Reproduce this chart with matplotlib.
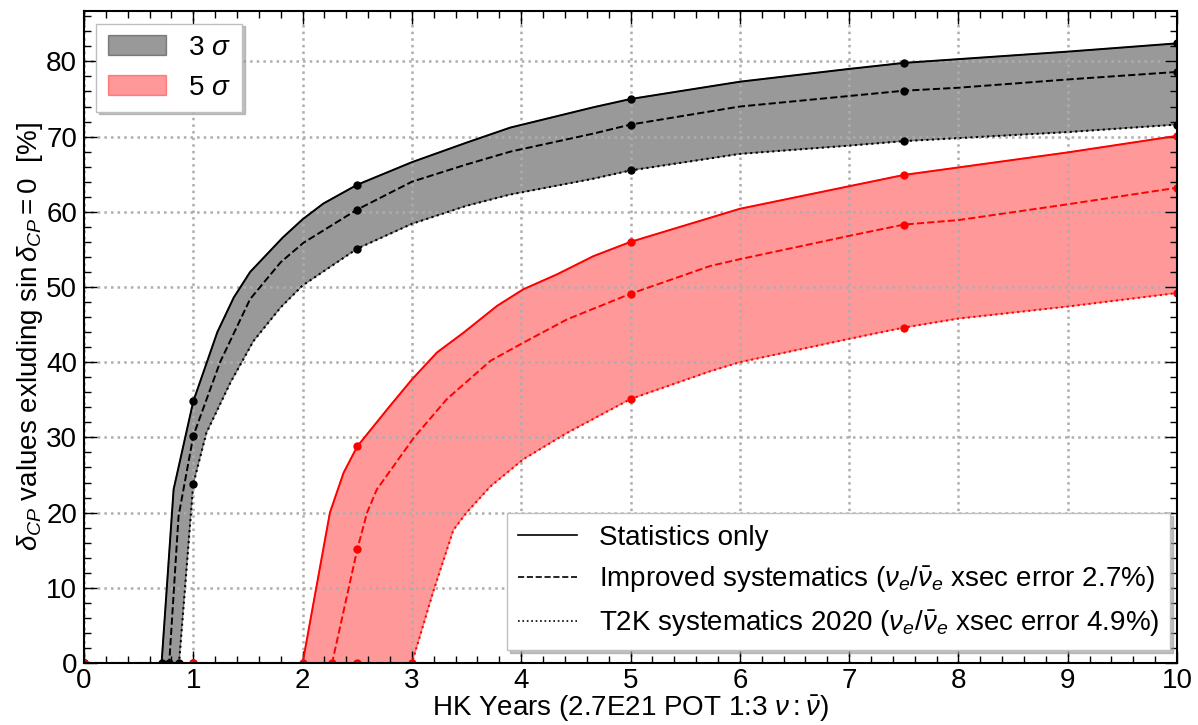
import numpy as np
import matplotlib
matplotlib.use("Agg")
import matplotlib.pyplot as plt
from matplotlib.lines import Line2D
from matplotlib.patches import Patch
from matplotlib.ticker import MultipleLocator

plt.rcParams["font.family"] = ["Liberation Sans", "DejaVu Sans"]
plt.rcParams["mathtext.fontset"] = "custom"
plt.rcParams["mathtext.rm"] = "Liberation Sans"
plt.rcParams["mathtext.it"] = "Liberation Sans:italic"
plt.rcParams["mathtext.bf"] = "Liberation Sans:bold"

FS = 20

# HK years at which each sensitivity curve was evaluated, and the
# fraction of delta_CP values excluding sin(delta_CP)=0 [%]
X_3S_STAT = [0, 0.71, 0.82, 1.0, 1.22, 1.37, 1.52, 1.82, 2.0, 2.19, 2.5, 3.0,
             3.5, 3.9, 4.66, 5.0, 6.0, 7.0, 7.5, 8.0, 9.0, 10.0]
Y_3S_STAT = [0, 0, 23.1, 34.8, 44.0, 48.6, 52.0, 56.6, 59.0, 61.1, 63.6, 66.6,
             69.2, 71.2, 73.9, 75.0, 77.3, 79.0, 79.8, 80.3, 81.3, 82.4]

X_3S_IMPR = [0, 0.78, 0.865, 1.0, 1.245, 1.52, 1.8, 2.01, 2.5, 3.0, 3.5, 3.9,
             4.66, 5.0, 6.0, 7.0, 7.5, 8.0, 9.0, 10.0]
Y_3S_IMPR = [0, 0, 19.5, 30.2, 40.0, 48.4, 53.3, 55.9, 60.3, 64.0, 66.3, 68.0,
             70.4, 71.6, 74.0, 75.4, 76.1, 76.5, 77.6, 78.6]

X_3S_T2K = [0, 0.87, 1.0, 1.12, 1.34, 1.55, 1.8, 2.0, 2.5, 3.0, 3.5, 3.9,
            4.66, 5.0, 6.0, 7.0, 7.5, 8.0, 9.0, 10.0]
Y_3S_T2K = [0, 0, 23.8, 30.6, 37.3, 42.8, 47.3, 50.2, 55.1, 58.4, 60.8, 62.3,
            64.4, 65.5, 67.7, 68.8, 69.4, 69.8, 70.6, 71.6]

X_5S_STAT = [0, 1.0, 2.0, 2.25, 2.375, 2.5, 2.8, 3.0, 3.23, 3.47, 3.78, 4.02,
             4.33, 4.66, 5.0, 6.0, 7.0, 7.5, 8.0, 9.0, 10.0]
Y_5S_STAT = [0, 0, 0, 20.0, 25.3, 28.8, 34.2, 37.7, 41.3, 43.9, 47.5, 49.7,
             51.7, 54.1, 56.0, 60.4, 63.4, 64.9, 65.9, 67.9, 70.1]

X_5S_IMPR = [0, 1.0, 2.27, 2.5, 2.59, 2.68, 3.02, 3.32, 3.72, 4.02, 4.42,
             5.0, 5.73, 6.0, 7.0, 7.5, 8.0, 9.0, 10.0]
Y_5S_IMPR = [0, 0, 0, 15.1, 20.0, 23.1, 30.0, 35.1, 40.2, 42.6, 45.7,
             49.1, 52.8, 53.7, 56.8, 58.3, 58.9, 61.0, 63.2]

X_5S_T2K = [0, 1.0, 2.5, 3.0, 3.2, 3.38, 3.5, 3.72, 4.02, 4.42, 5.0, 5.73,
            6.0, 7.0, 7.5, 8.0, 9.0, 10.0]
Y_5S_T2K = [0, 0, 0, 0, 9.7, 17.7, 20.0, 23.5, 27.1, 30.6, 35.1, 38.8,
            40.0, 43.1, 44.6, 45.8, 47.4, 49.2]

# exposures that were actually simulated (shown as dots)
MARK_X = [0, 1.0, 2.5, 5.0, 7.5, 10.0]

LEG_LABELS = [
    "Statistics only",
    r"Improved systematics ($\nu_e/\bar{\nu}_e$ xsec error 2.7%)",
    r"T2K systematics 2020 ($\nu_e/\bar{\nu}_e$ xsec error 4.9%)",
]


def mark_indices(x, y):
    """Dots at the simulated exposures plus the point where the curve leaves zero."""
    x = np.asarray(x)
    y = np.asarray(y)
    idx = set(np.flatnonzero(np.isin(x, MARK_X)).tolist())
    idx.add(int(np.flatnonzero(y == 0)[-1]))
    return sorted(idx)


def draw_band(ax, curves, color):
    (xs, ys), _, (xl, yl) = curves
    px = np.concatenate([xs, xl[::-1]])
    py = np.concatenate([ys, yl[::-1]])
    ax.fill(px, py, color=color, alpha=0.4, lw=1.0, zorder=1)
    for (x, y), ls in zip(curves, ["-", "--", ":"]):
        lw = 1.4 if ls != ":" else 1.5
        ax.plot(x, y, ls=ls, color=color, lw=lw, marker="o", ms=5,
                markevery=mark_indices(x, y), zorder=2)


fig = plt.figure(figsize=(11.98, 7.25), dpi=100)
ax = fig.add_axes([0.0701, 0.0855, 0.9124, 0.8993])

draw_band(ax, [(X_3S_STAT, Y_3S_STAT), (X_3S_IMPR, Y_3S_IMPR),
               (X_3S_T2K, Y_3S_T2K)], "k")
draw_band(ax, [(X_5S_STAT, Y_5S_STAT), (X_5S_IMPR, Y_5S_IMPR),
               (X_5S_T2K, Y_5S_T2K)], "r")

ax.set_xlim(0, 10)
ax.set_ylim(0, 86.7)
ax.xaxis.set_major_locator(MultipleLocator(1))
ax.xaxis.set_minor_locator(MultipleLocator(0.2))
ax.yaxis.set_major_locator(MultipleLocator(10))
ax.yaxis.set_minor_locator(MultipleLocator(2))
ax.tick_params(which="both", direction="in", top=True, right=True,
               labelsize=FS, width=1.0, pad=5)
ax.tick_params(axis="x", which="both", pad=3.5)
ax.tick_params(which="major", length=9)
ax.tick_params(which="minor", length=5)
for sp in ax.spines.values():
    sp.set_linewidth(1.5)
ax.grid(True, which="major", ls=":", lw=1.8, color="0.68")

ax.set_xlabel(r"HK Years (2.7E21 POT 1:3 $\nu:\bar{\nu}$)", fontsize=FS,
              labelpad=0)
ax.set_ylabel(r"$\delta_{CP}$ values exluding sin$\,\delta_{CP}=0$  [%]",
              fontsize=FS, labelpad=1)

shadow = {"color": "0.6", "alpha": 0.6}
band_handles = [Patch(facecolor="k", edgecolor="k", alpha=0.4, lw=1.0),
                Patch(facecolor="r", edgecolor="r", alpha=0.4, lw=1.0)]
leg1 = ax.legend(band_handles, [r"3 $\sigma$", r"5 $\sigma$"], loc="upper left",
                 fontsize=FS, fancybox=False, shadow=shadow, framealpha=1,
                 edgecolor="0.75", handlelength=2.1, handleheight=0.75,
                 borderaxespad=0.45)
ax.add_artist(leg1)

line_handles = [Line2D([], [], color="k", ls=ls, lw=1.2) for ls in ["-", "--", ":"]]
ax.legend(line_handles, LEG_LABELS, loc="lower right",
          bbox_to_anchor=(0.994, 0.02), borderaxespad=0, fontsize=FS,
          fancybox=False, shadow=shadow, framealpha=1, edgecolor="0.75",
          handlelength=2.1)

fig.savefig("out.png", dpi=100)
